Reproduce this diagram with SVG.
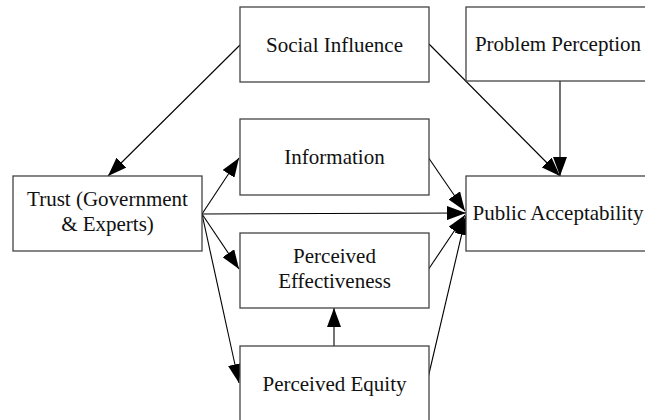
<svg xmlns="http://www.w3.org/2000/svg" width="645" height="420" viewBox="0 0 645 420">
<style>
.box{fill:#fff;stroke:#444;stroke-width:1.3}
.lbl{font-family:"Liberation Serif","Times New Roman",serif;font-size:21px;fill:#111;text-anchor:middle}
.con{stroke:#000;stroke-width:1.1;fill:none;marker-end:url(#ah)}
</style>
<defs>
<marker id="ah" markerUnits="userSpaceOnUse" markerWidth="20" markerHeight="14" refX="19" refY="7" orient="auto" viewBox="0 0 20 14">
<path d="M0,0 L19,7 L0,14 z" fill="#000"/>
</marker>
</defs>
<rect width="645" height="420" fill="#fff"/>
<g id="connectors">
<line class="con" x1="240" y1="45" x2="108" y2="176"/>
<line class="con" x1="429" y1="44" x2="560" y2="176"/>
<line class="con" x1="560" y1="81" x2="560" y2="176"/>
<line class="con" x1="202" y1="214" x2="239" y2="158"/>
<line class="con" x1="202" y1="214" x2="466" y2="213"/>
<line class="con" x1="202" y1="214" x2="239" y2="269"/>
<line class="con" x1="202" y1="214" x2="239" y2="383"/>
<line class="con" x1="428" y1="157" x2="465" y2="211"/>
<line class="con" x1="428" y1="270" x2="465" y2="215"/>
<line class="con" x1="428" y1="378" x2="466" y2="216"/>
<line class="con" x1="334" y1="346" x2="334" y2="308"/>
</g>
<g id="social-influence">
<rect class="box" x="240" y="7" width="189" height="75"/>
<text class="lbl" x="334.5" y="51.5">Social Influence</text>
</g>
<g id="problem-perception">
<rect class="box" x="466" y="7" width="189" height="74"/>
<text class="lbl" x="558" y="51">Problem Perception</text>
</g>
<g id="trust">
<rect class="box" x="13" y="176" width="189" height="75"/>
<text class="lbl" x="107.5" y="206">Trust (Government</text>
<text class="lbl" x="107.5" y="231">&amp; Experts)</text>
</g>
<g id="information">
<rect class="box" x="240" y="119" width="189" height="76"/>
<text class="lbl" x="334.5" y="164">Information</text>
</g>
<g id="perceived-effectiveness">
<rect class="box" x="240" y="233" width="189" height="75"/>
<text class="lbl" x="334.5" y="263">Perceived</text>
<text class="lbl" x="334.5" y="288">Effectiveness</text>
</g>
<g id="perceived-equity">
<rect class="box" x="240" y="346" width="189" height="75"/>
<text class="lbl" x="334.5" y="390.5">Perceived Equity</text>
</g>
<g id="public-acceptability">
<rect class="box" x="466" y="176" width="189" height="75"/>
<text class="lbl" x="558" y="220">Public Acceptability</text>
</g>
</svg>
